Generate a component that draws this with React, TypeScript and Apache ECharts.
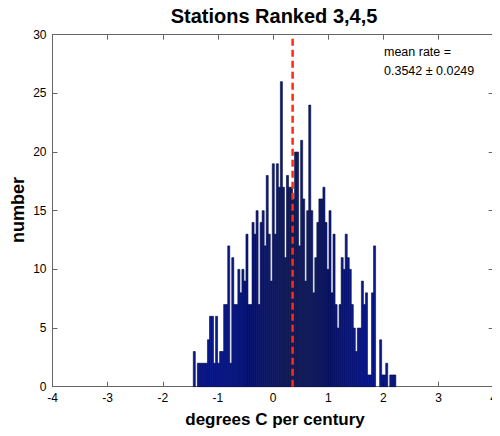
import React, { useEffect, useRef } from "react";
import * as echarts from "echarts";

// Histogram (100 equal bins between the data minimum and maximum)
const histMin = -1.447;
const histMax = 2.226;
const binCounts = [
  3, 0, 2, 2, 2, 2, 2, 4, 6, 6,
  2, 6, 2, 3, 3, 7, 7, 12, 2, 11,
  7, 7, 10, 8, 10, 9, 13, 7, 7, 14,
  13, 15, 7, 14, 15, 12, 18, 13, 9, 19,
  13, 19, 17, 26, 17, 11, 18, 17, 17, 16,
  20, 20, 12, 21, 16, 9, 15, 24, 15, 8,
  11, 14, 16, 16, 17, 14, 10, 15, 8, 13,
  7, 5, 7, 11, 10, 13, 11, 10, 7, 5,
  3, 5, 5, 9, 7, 8, 1, 1, 8, 12,
  0, 0, 4, 1, 1, 2, 0, 1, 1, 1,
];
const meanRate = 0.3542;
const meanErr = 0.0249;
const titleText = "Stations Ranked 3,4,5";
const xLabel = "degrees C per century";
const yLabel = "number";

const FONT = "'Liberation Sans', Arial, Helvetica, sans-serif";

export default function App() {
  const ref = useRef<HTMLDivElement>(null);
  useEffect(() => {
    if (!ref.current) return;
    const chart = echarts.init(ref.current, null, { renderer: "svg" });
    const n = binCounts.length;
    const w = (histMax - histMin) / n;
    const barData = binCounts
      .map((c, i) => [histMin + i * w, histMin + (i + 1) * w, c])
      .filter((d) => d[2] > 0);

    const axisLineColor = "#666";
    const commonX = {
      type: "value" as const,
      min: -4,
      max: 4,
      interval: 1,
      splitLine: { show: false },
      axisLine: { show: true, onZero: false, lineStyle: { color: axisLineColor, width: 1 } },
      axisTick: { show: true, inside: true, length: 5, lineStyle: { color: axisLineColor } },
    };
    const commonY = {
      type: "value" as const,
      min: 0,
      max: 30,
      interval: 5,
      splitLine: { show: false },
      axisLine: { show: true, onZero: false, lineStyle: { color: axisLineColor, width: 1 } },
      axisTick: { show: true, inside: true, length: 5, lineStyle: { color: axisLineColor } },
    };

    chart.setOption({
      animation: false,
      backgroundColor: "#ffffff",
      grid: { left: 52.5, right: 2, top: 34.7, bottom: 49.3, containLabel: false },
      xAxis: [
        {
          ...commonX,
          position: "bottom",
          axisLabel: { color: "#000", fontSize: 12, fontFamily: FONT, margin: 5 },
        },
        { ...commonX, position: "top", axisLabel: { show: false } },
      ],
      yAxis: [
        {
          ...commonY,
          position: "left",
          axisLabel: { color: "#000", fontSize: 12, fontFamily: FONT, margin: 6 },
        },
        { ...commonY, position: "right", axisLabel: { show: false } },
      ],
      series: [
        {
          type: "custom",
          xAxisIndex: 0,
          yAxisIndex: 0,
          encode: { x: [0, 1], y: 2 },
          data: barData,
          renderItem: (params: any, api: any) => {
            const p0 = api.coord([api.value(0), api.value(2)]);
            const p1 = api.coord([api.value(1), 0]);
            return {
              type: "rect",
              shape: { x: p0[0], y: p0[1], width: p1[0] - p0[0], height: p1[1] - p0[1] },
              style: { fill: "#0b1a8c", stroke: "#040a35", lineWidth: 0.6 },
            };
          },
          z: 2,
        },
        {
          type: "line",
          xAxisIndex: 0,
          yAxisIndex: 0,
          data: [
            [meanRate, 0],
            [meanRate, 30],
          ],
          symbol: "none",
          lineStyle: { color: "#ff2a10", width: 2.5, type: [7, 4] },
          z: 5,
        },
      ],
      graphic: [
        {
          type: "text",
          x: 274,
          y: 16,
          style: {
            text: titleText,
            font: `bold 20px ${FONT}`,
            fill: "#000",
            textAlign: "center",
            textVerticalAlign: "middle",
          },
        },
        {
          type: "text",
          x: 275,
          y: 419,
          style: {
            text: xLabel,
            font: `bold 17px ${FONT}`,
            fill: "#000",
            textAlign: "center",
            textVerticalAlign: "middle",
          },
        },
        {
          type: "text",
          x: 18,
          y: 210,
          rotation: Math.PI / 2,
          style: {
            text: yLabel,
            font: `bold 18px ${FONT}`,
            fill: "#000",
            textAlign: "center",
            textVerticalAlign: "middle",
          },
        },
        {
          type: "text",
          x: 384,
          y: 52,
          style: {
            text: "mean rate =",
            font: `12.5px ${FONT}`,
            fill: "#000",
            textAlign: "left",
            textVerticalAlign: "middle",
          },
        },
        {
          type: "text",
          x: 384,
          y: 71,
          style: {
            text: `${meanRate.toFixed(4)} ± ${meanErr.toFixed(4)}`,
            font: `12.5px ${FONT}`,
            fill: "#000",
            textAlign: "left",
            textVerticalAlign: "middle",
          },
        },
      ],
    });
    return () => chart.dispose();
  }, []);
  return <div ref={ref} style={{ width: 500, height: 436, margin: -8 }} />;
}
